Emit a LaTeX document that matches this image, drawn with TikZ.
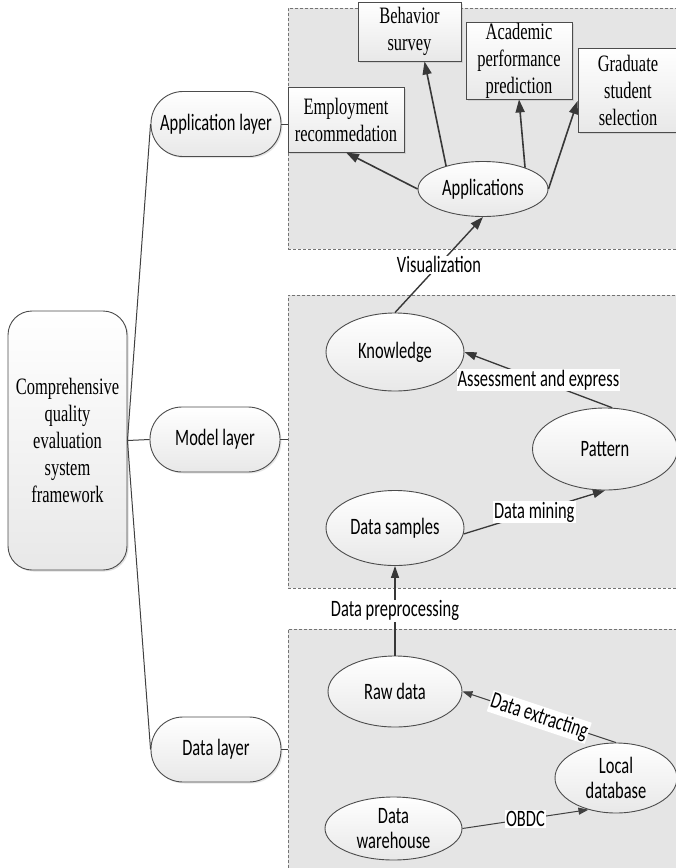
\documentclass[tikz,border=0pt]{standalone}
\usepackage{fontspec}
\setmainfont{Liberation Serif}[FakeStretch=0.7]
\newfontfamily\sansf{Carlito}[FakeStretch=0.7]
\usetikzlibrary{shapes.geometric,arrows.meta,calc,shadows}

\tikzset{
  serif/.style={font=\fontsize{23.5}{27}\selectfont},
  sans/.style={font=\sansf\fontsize{23.5}{25.5}\selectfont},
  nodefill/.style={top color=white, bottom color=black!9, draw=black!70, line width=0.9pt},
  layerbox/.style={draw=black!55, dash pattern=on 3pt off 2pt, fill=black!10, line width=0.8pt,
    anchor=north west, inner sep=0pt},
  mainbox/.style={nodefill, serif, rounded corners=24pt, align=center, inner sep=0pt,
    minimum width=119pt, minimum height=259pt,
    drop shadow={opacity=0.25, shadow xshift=1.5pt, shadow yshift=-1.5pt}},
  pill/.style={nodefill, sans, rounded corners=32pt, inner sep=0pt,
    minimum width=130pt, minimum height=65pt,
    drop shadow={opacity=0.2, shadow xshift=1.5pt, shadow yshift=-1.5pt}},
  appbox/.style={nodefill, serif, rectangle, align=center, inner sep=0pt,
    drop shadow={opacity=0.2, shadow xshift=1.5pt, shadow yshift=-1.5pt}},
  oval/.style={nodefill, sans, ellipse, align=center, inner sep=0pt},
  lbl/.style={sans, fill=white, inner sep=1pt, midway},
  link/.style={draw=black!75, line width=1pt},
  apparrow/.style={draw=black!78, line width=1.6pt, -{Triangle[length=13pt,width=9pt]}},
  modarrow/.style={draw=black!78, line width=1.3pt, -{Triangle[length=12pt,width=8pt]}},
  datarrow/.style={draw=black!75, line width=1pt, -{Triangle[length=10pt,width=7pt]}},
}

\begin{document}
\begin{tikzpicture}[x=1pt,y=-1pt]
\useasboundingbox (0,0) rectangle (676,868);
\clip (0,0) rectangle (676,868);

% layer regions
\node[layerbox, minimum width=392pt, minimum height=241pt] (appregion) at (288,8) {};
\node[layerbox, minimum width=392pt, minimum height=293pt] (modregion) at (288,295) {};
\node[layerbox, minimum width=392pt, minimum height=260pt] (datregion) at (288,629) {};

% main and layers
\node[mainbox] (main) at (67.5,440.5) {Comprehensive\\quality\\evaluation\\system\\framework};
\node[pill] (applayer) at (216,124) {Application layer};
\node[pill] (modlayer) at (215,439.5) {Model layer};
\node[pill] (datlayer) at (216,749.5) {Data layer};

\draw[link] (main.east) -- (applayer.west);
\draw[link] (main.east) -- (modlayer.west);
\draw[link] (main.east) -- (datlayer.west);
\draw[link, line width=0.6pt] (applayer.east) -- (appregion.west |- applayer.east);
\draw[link, line width=0.6pt] (modlayer.east) -- (modregion.west |- modlayer.east);
\draw[link, line width=0.6pt] (datlayer.east) -- (datregion.west |- datlayer.east);

% application layer
\node[appbox, minimum width=116pt, minimum height=65pt] (emp) at (346,119.5) {Employment\\recommedation};
\node[appbox, minimum width=103pt, minimum height=59pt] (beh) at (409.5,31.5) {Behavior\\survey};
\node[appbox, minimum width=106pt, minimum height=77pt] (acad) at (519,60.5) {Academic\\performance\\prediction};
\node[appbox, minimum width=100pt, minimum height=84pt] (grad) at (628,90) {Graduate\\student\\selection};
\node[oval, minimum width=130pt, minimum height=55pt] (apps) at (483,189) {Applications};

\draw[apparrow] (apps.west) -- (emp.south);
\draw[apparrow] (apps.148) -- ($(beh.south)+(15,0)$);
\draw[apparrow] (apps.27) -- (acad.south);
\draw[apparrow] (apps.east) -- ($(grad.west)+(0,11)$);

% model layer
\node[oval, minimum width=138pt, minimum height=78pt] (know) at (395,352) {Knowledge};
\node[oval, minimum width=145pt, minimum height=82pt] (pat) at (605,449) {Pattern};
\node[oval, minimum width=138pt, minimum height=75pt] (samp) at (395,528) {Data samples};

\draw[apparrow, line width=1.4pt] (know.north) -- (apps.south) node[lbl] {Visualization};
\draw[modarrow] (pat.80) -- (know.east) node[lbl] {Assessment and express};
\draw[modarrow] (samp.-5) -- (pat.south) node[lbl] {Data mining};

% data layer
\node[oval, minimum width=134pt, minimum height=71pt] (raw) at (395,691.5) {Raw data};
\node[oval, minimum width=122pt, minimum height=70pt] (local) at (616,778) {Local\\database};
\node[oval, minimum width=137pt, minimum height=63pt] (wh) at (393.5,828.5) {Data\\warehouse};

\draw[modarrow] (raw.north) -- (samp.south) node[lbl] {Data preprocessing};
\draw[datarrow] (local.north) -- (raw.east) node[lbl, sloped] {Data extracting};
\draw[datarrow] (wh.east) -- (local.229) node[lbl] {OBDC};
\end{tikzpicture}
\end{document}
